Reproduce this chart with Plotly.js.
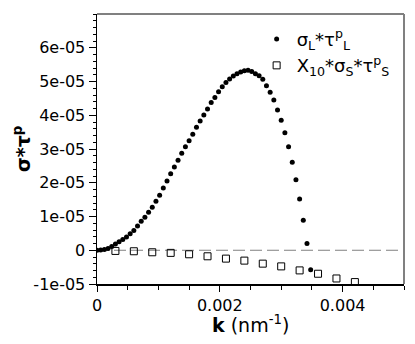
<!DOCTYPE html>
<html>
<head>
<meta charset="utf-8">
<script src="https://cdn.plot.ly/plotly-3.0.1.min.js"></script>
<style>html,body{margin:0;padding:0;background:#fff;}#chart{width:415px;height:344px;}</style>
</head>
<body>
<div id="chart"></div>
<script>
// k values (nm^-1) for the long-range series, step 6e-5
const kL = [0,0.00006,0.00012,0.00018,0.00024,0.0003,0.00036,0.00042,0.00048,0.00054,
  0.0006,0.00066,0.00072,0.00078,0.00084,0.0009,0.00096,0.00102,0.00108,0.00114,
  0.0012,0.00126,0.00132,0.00138,0.00144,0.0015,0.00156,0.00162,0.00168,0.00174,
  0.0018,0.00186,0.00192,0.00198,0.00204,0.0021,0.00216,0.00222,0.00228,0.00234,
  0.0024,0.00246,0.00252,0.00258,0.00264,0.0027,0.00276,0.00282,0.00288,0.00294,
  0.003,0.00306,0.00312,0.00318,0.00324,0.0033,0.00336,0.00342,0.00348];
// sigma_L * tau^p_L values
const valL = [0,0.06e-6,0.21e-6,0.51e-6,1.10e-6,1.85e-6,2.51e-6,3.19e-6,3.94e-6,4.90e-6,
  5.88e-6,7.22e-6,8.57e-6,9.76e-6,11.25e-6,12.75e-6,14.54e-6,16.33e-6,18.42e-6,20.5e-6,
  22.66e-6,24.69e-6,26.63e-6,28.72e-6,30.66e-6,32.45e-6,34.39e-6,36.48e-6,38.27e-6,40.06e-6,
  41.85e-6,43.79e-6,45.28e-6,46.98e-6,48.42e-6,49.67e-6,50.72e-6,51.64e-6,52.30e-6,52.81e-6,
  53.22e-6,53.34e-6,52.93e-6,52.30e-6,51.70e-6,50.66e-6,48.72e-6,46.78e-6,44.54e-6,41.55e-6,
  38.51e-6,34.84e-6,30.66e-6,26.09e-6,20.90e-6,15.22e-6,8.87e-6,2.00e-6,-5.76e-6];
// k values for the short-range series
const kS = [0.0003,0.0006,0.0009,0.0012,0.0015,0.0018,0.0021,0.0024,0.0027,0.003,0.0033,0.0036,0.0039,0.0042];
// X10 * sigma_S * tau^p_S values
const valS = [-0.2e-6,-0.30e-6,-0.60e-6,-0.78e-6,-1.19e-6,-1.79e-6,-2.48e-6,-3.07e-6,-3.97e-6,-4.78e-6,-5.97e-6,-6.96e-6,-8.36e-6,-9.43e-6];

const xTickVals = [0,0.002,0.004];
const xTickText = ['0','0.002','0.004'];
const yTickVals = [-1e-5,0,1e-5,2e-5,3e-5,4e-5,5e-5,6e-5];
const yTickText = ['-1e-05','0','1e-05','2e-05','3e-05','4e-05','5e-05','6e-05'];
const xTitle = '<b>k</b> (nm<sup>-1</sup>)';
const yTitle = '<b>σ*τ<sup>p</sup></b>';

const font = 'DejaVu Sans, sans-serif';

const traces = [
  {x:kL, y:valL, mode:'markers', type:'scatter', name:'σ<sub>L</sub>*τ<sup>p</sup><sub>L</sub>',
   marker:{symbol:'circle', size:5, color:'#000'}},
  {x:kS, y:valS, mode:'markers', type:'scatter', name:'X<sub>10</sub>*σ<sub>S</sub>*τ<sup>p</sup><sub>S</sub>',
   marker:{symbol:'square-open', size:7, color:'#000', line:{width:1, color:'#000'}}}
];

const layout = {
  width:415, height:344,
  margin:{l:97, r:11, t:14, b:60, pad:0},
  paper_bgcolor:'#fff', plot_bgcolor:'#fff',
  font:{family:font, size:16, color:'#000'},
  showlegend:true,
  legend:{x:0.52, y:0.975, xanchor:'left', yanchor:'top', bgcolor:'rgba(0,0,0,0)',
    font:{family:font, size:18, color:'#000'}, tracegroupgap:0},
  xaxis:{range:[0,0.005], showgrid:false, zeroline:false, showline:true, linecolor:'#000', linewidth:1.5,
    ticks:'outside', ticklen:6, tickwidth:1, tickcolor:'#000',
    tickmode:'array', tickvals:xTickVals, ticktext:xTickText,
    tickfont:{family:font, size:16},
    minor:{dtick:0.0005, ticklen:4, tickwidth:1, tickcolor:'#000', ticks:'outside', showgrid:false}},
  yaxis:{range:[-1e-5,7e-5], showgrid:false, zeroline:false, showline:true, linecolor:'#000', linewidth:1.5,
    ticks:'outside', ticklen:7, tickwidth:1, tickcolor:'#000',
    tickmode:'array', tickvals:yTickVals, ticktext:yTickText,
    tickfont:{family:font, size:16},
    minor:{dtick:2e-6, ticklen:3, tickwidth:1, tickcolor:'#000', ticks:'outside', showgrid:false}},
  annotations:[
    {text:xTitle, xref:'paper', yref:'paper', x:0.5, y:-0.147, xanchor:'center', yanchor:'middle',
     showarrow:false, font:{family:font, size:19, color:'#000'}},
    {text:yTitle, xref:'paper', yref:'paper', x:-0.244, y:0.5, xanchor:'center', yanchor:'middle',
     textangle:-90, showarrow:false, font:{family:font, size:19, color:'#000'}}
  ],
  shapes:[
    {type:'line', xref:'paper', yref:'y', x0:0, x1:1, y0:0, y1:0, line:{color:'#808080', width:1, dash:'12px,5px'}, layer:'below'},
    {type:'line', xref:'paper', yref:'paper', x0:0, x1:1, y0:1, y1:1, line:{color:'#808080', width:2}},
    {type:'line', xref:'paper', yref:'paper', x0:1, x1:1, y0:0, y1:1, line:{color:'#808080', width:2}}
  ]
};

Plotly.newPlot('chart', traces, layout, {displayModeBar:false, staticPlot:true});
</script>
</body>
</html>
